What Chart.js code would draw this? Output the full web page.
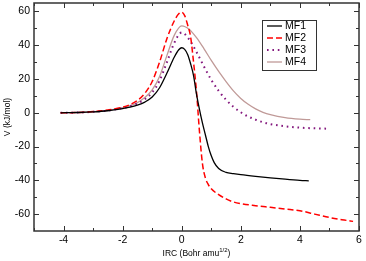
<!DOCTYPE html>
<html>
<head>
<meta charset="utf-8">
<script src="https://cdn.jsdelivr.net/npm/chart.js@4/dist/chart.umd.min.js"></script>
<style>
  html, body { margin: 0; padding: 0; background: #fff; }
  #wrap { width: 366px; height: 261px; }
</style>
</head>
<body>
<div id="wrap"><canvas id="chart" width="366" height="261"></canvas></div>
<script>
// IRC profiles (x in Bohr amu^1/2, V in kJ/mol)
let irc1 = [-4.1, -3.5, -3, -2.5, -2, -1.75, -1.5, -1.25, -1, -0.75, -0.5, -0.25, -0.1, 0,
  0.1, 0.2, 0.3, 0.4, 0.5, 0.6, 0.7, 0.8, 0.9, 1.0, 1.1, 1.25, 1.5, 1.75, 2, 2.5, 3, 3.5, 4, 4.3];
let mf1 = [0, 0.15, 0.5, 1.2, 2.5, 3.3, 4.5, 6.3, 9.3, 14.8, 23.5, 33, 37.3, 38.5,
  37.5, 34.5, 29, 22, 11, 2, -6, -13, -20, -25.5, -29.5, -33, -35.3, -36, -36.6, -37.6, -38.5, -39.3, -40, -40.3];

let irc2 = [-4.1, -3.5, -3, -2.5, -2, -1.75, -1.5, -1.25, -1, -0.75, -0.5, -0.25, -0.1, 0,
  0.1, 0.2, 0.3, 0.4, 0.5, 0.6, 0.7, 0.8, 0.9, 1.0, 1.25, 1.5, 1.75, 2, 2.5, 3, 3.5, 4, 4.5, 5, 5.5, 5.8];
let mf2 = [0, 0.2, 0.7, 1.7, 3.3, 4.8, 7.3, 11.5, 18.5, 30, 44, 54.5, 58.6, 59.5,
  57.5, 52, 45, 30, 12.5, -11, -30, -38.5, -42.5, -45, -48.5, -51, -52.8, -53.8, -55, -56, -57, -58, -60, -62, -63.5, -64.3];

let irc3 = [-4.1, -3.5, -3, -2.5, -2, -1.75, -1.5, -1.25, -1, -0.75, -0.5, -0.25, 0,
  0.25, 0.5, 0.75, 1, 1.25, 1.5, 1.75, 2, 2.25, 2.5, 2.75, 3, 3.5, 4, 4.5, 4.9];
let mf3 = [0, 0.15, 0.55, 1.3, 2.8, 3.8, 5.5, 8, 12, 19, 30, 41.5, 47.5,
  43.5, 36, 27.5, 19.5, 13, 7.7, 3.5, 0.3, -2.2, -4.1, -5.6, -6.7, -8, -8.8, -9.2, -9.4];

let irc4 = [-4.1, -3.5, -3, -2.5, -2, -1.75, -1.5, -1.25, -1, -0.75, -0.5, -0.25, 0,
  0.25, 0.5, 0.75, 1, 1.25, 1.5, 1.75, 2, 2.25, 2.5, 2.75, 3, 3.5, 4, 4.35];
let mf4 = [0, 0.15, 0.6, 1.4, 3, 4.2, 6, 9, 13.5, 21.5, 34, 46, 51.5,
  49.5, 44.5, 38, 31, 24.5, 18.5, 13, 8.5, 5, 2.3, 0.3, -1.1, -2.9, -3.8, -4.1];

let seriesNames = ['MF1', 'MF2', 'MF3', 'MF4'];
let xTicks = [-4, -2, 0, 2, 4, 6];
let xMinor = [-5, -3, -1, 1, 3, 5];
let yTicks = [-60, -40, -20, 0, 20, 40, 60];
let yMinor = [-50, -30, -10, 10, 30, 50];

function pts(xs, ys) {
  return xs.map((x, i) => ({x: x, y: ys[i]}));
}

const FONT = 'Liberation Sans, Arial, sans-serif';
const FRAME = '#333';

// frame with inward ticks, legend box and axis titles
const decor = {
  id: 'decor',
  afterDraw(chart) {
    let ctx = chart.ctx;
    let a = chart.chartArea;
    let xs = chart.scales.x, ys = chart.scales.y;
    ctx.save();
    ctx.strokeStyle = FRAME;
    ctx.lineWidth = 1.5;
    ctx.strokeRect(a.left, a.top, a.right - a.left, a.bottom - a.top);

    ctx.lineWidth = 1;
    ctx.beginPath();
    function xt(v, len) {
      let p = Math.round(xs.getPixelForValue(v)) + 0.5;
      ctx.moveTo(p, a.bottom); ctx.lineTo(p, a.bottom - len);
      ctx.moveTo(p, a.top); ctx.lineTo(p, a.top + len);
    }
    function yt(v, len) {
      let p = Math.round(ys.getPixelForValue(v)) + 0.5;
      ctx.moveTo(a.left, p); ctx.lineTo(a.left + len, p);
      ctx.moveTo(a.right, p); ctx.lineTo(a.right - len, p);
    }
    xTicks.forEach(v => xt(v, 5));
    xMinor.forEach(v => xt(v, 3));
    yTicks.forEach(v => yt(v, 5));
    yMinor.forEach(v => yt(v, 3));
    ctx.stroke();

    // legend
    let lx = 262, ly = 20, lw = 54, lh = 50;
    ctx.fillStyle = '#fff';
    ctx.fillRect(lx, ly, lw, lh);
    ctx.strokeStyle = FRAME;
    ctx.lineWidth = 1;
    ctx.strokeRect(lx + 0.5, ly + 0.5, lw, lh);
    chart.data.datasets.forEach((ds, i) => {
      let y = ly + 6 + i * 12;
      ctx.beginPath();
      ctx.strokeStyle = ds.borderColor;
      ctx.lineWidth = ds.borderWidth;
      ctx.setLineDash(ds.borderDash || []);
      ctx.moveTo(lx + 5, y);
      ctx.lineTo(lx + 20, y);
      ctx.stroke();
      ctx.setLineDash([]);
      ctx.fillStyle = '#000';
      ctx.font = '10.5px ' + FONT;
      ctx.textBaseline = 'middle';
      ctx.textAlign = 'left';
      ctx.fillText(ds.label, lx + 23, y + 0.5);
    });

    // axis titles
    ctx.fillStyle = '#000';
    ctx.font = '8.5px ' + FONT;
    ctx.textBaseline = 'middle';
    ctx.save();
    ctx.translate(8, (a.top + a.bottom) / 2);
    ctx.rotate(-Math.PI / 2);
    ctx.textAlign = 'center';
    ctx.fillText('V (kJ/mol)', 0, 0);
    ctx.restore();

    let t1 = 'IRC (Bohr amu', sup = '1/2', t2 = ')';
    ctx.font = '8.5px ' + FONT;
    let w1 = ctx.measureText(t1).width, w3 = ctx.measureText(t2).width;
    ctx.font = '6px ' + FONT;
    let w2 = ctx.measureText(sup).width;
    let sx = (a.left + a.right) / 2 - (w1 + w2 + w3) / 2;
    let ty = 254;
    ctx.textAlign = 'left';
    ctx.font = '8.5px ' + FONT;
    ctx.fillText(t1, sx, ty);
    ctx.font = '6px ' + FONT;
    ctx.fillText(sup, sx + w1, ty - 4);
    ctx.font = '8.5px ' + FONT;
    ctx.fillText(t2, sx + w1 + w2, ty);
    ctx.restore();
  }
};

function createChart() {
  let ctx = document.getElementById('chart').getContext('2d');
  let common = {fill: false, pointRadius: 0, cubicInterpolationMode: 'monotone'};
  window.irc = new Chart(ctx, {
    type: 'line',
    data: {
      datasets: [
        Object.assign({label: seriesNames[0], data: pts(irc1, mf1), borderColor: '#000000', borderWidth: 1.3}, common),
        Object.assign({label: seriesNames[1], data: pts(irc2, mf2), borderColor: '#ff0000', borderWidth: 1.5, borderDash: [6, 3]}, common),
        Object.assign({label: seriesNames[2], data: pts(irc3, mf3), borderColor: '#84187e', borderWidth: 2, borderDash: [1.6, 3.8]}, common),
        Object.assign({label: seriesNames[3], data: pts(irc4, mf4), borderColor: '#c09a98', borderWidth: 1.3}, common)
      ]
    },
    options: {
      responsive: false,
      animation: false,
      layout: {padding: {top: 3, right: 7, left: 0, bottom: 0}},
      plugins: {legend: {display: false}, tooltip: {enabled: false}},
      scales: {
        x: {
          type: 'linear', min: -5, max: 6,
          afterBuildTicks: s => { s.ticks = xTicks.map(v => ({value: v})); },
          afterFit: s => { s.height = 30; s.paddingLeft = 0; s.paddingRight = 0; },
          grid: {display: false, drawTicks: false, tickLength: 0},
          border: {display: false},
          ticks: {padding: 3, color: '#000', font: {family: FONT, size: 10.5}, maxRotation: 0}
        },
        y: {
          type: 'linear', min: -70, max: 65,
          afterBuildTicks: s => { s.ticks = yTicks.map(v => ({value: v})); },
          afterFit: s => { s.width = 34; s.paddingTop = 0; s.paddingBottom = 0; },
          grid: {display: false, drawTicks: false, tickLength: 0},
          border: {display: false},
          ticks: {padding: 4, color: '#000', font: {family: FONT, size: 10.5}}
        }
      }
    },
    plugins: [decor]
  });
}
createChart();
</script>
</body>
</html>
